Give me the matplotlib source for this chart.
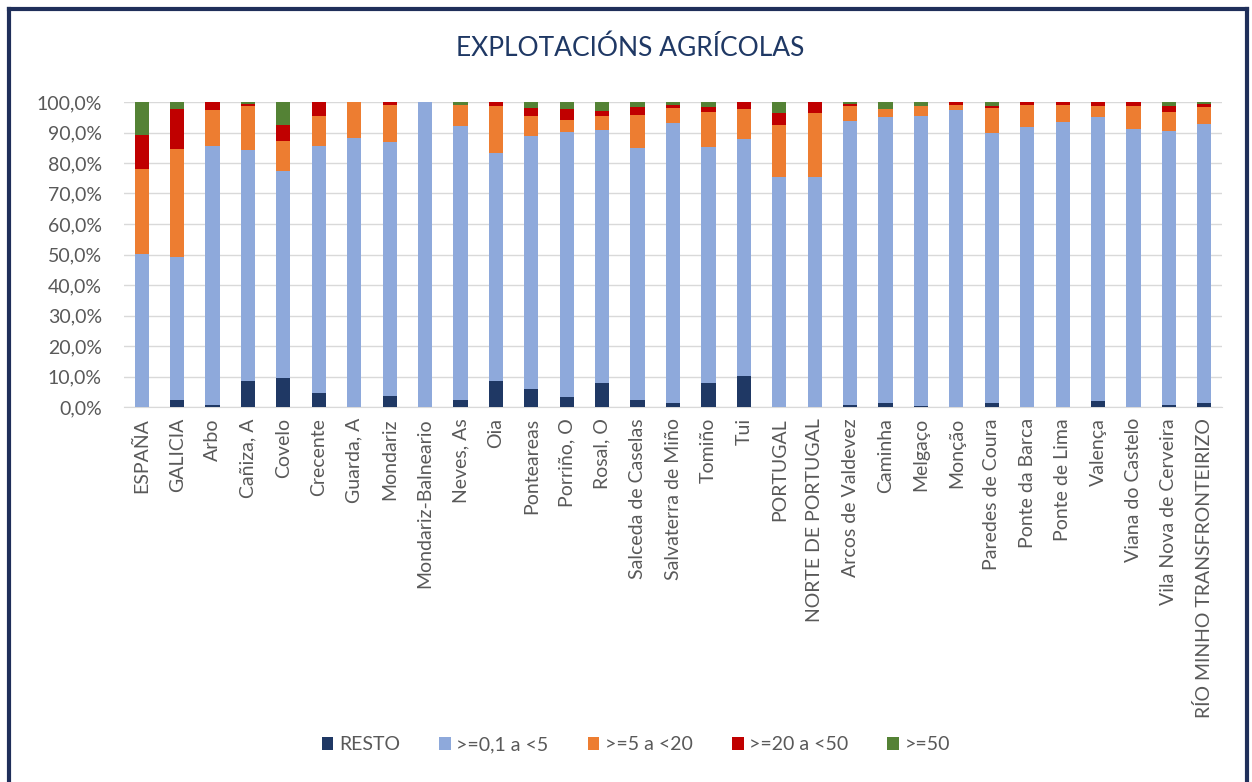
import matplotlib
matplotlib.use("Agg")
import matplotlib.pyplot as plt
from matplotlib.lines import Line2D
import numpy as np

plt.rcParams['font.family'] = ['Lato', 'DejaVu Sans']

# Datos (porcentaxe de explotacións por tamaño)
municipios = ["ESPAÑA", "GALICIA", "Arbo", "Cañiza, A", "Covelo", "Crecente", "Guarda, A",
              "Mondariz", "Mondariz-Balneario", "Neves, As", "Oia", "Ponteareas", "Porriño, O",
              "Rosal, O", "Salceda de Caselas", "Salvaterra de Miño", "Tomiño", "Tui",
              "PORTUGAL", "NORTE DE PORTUGAL", "Arcos de Valdevez", "Caminha", "Melgaço",
              "Monção", "Paredes de Coura", "Ponte da Barca", "Ponte de Lima", "Valença",
              "Viana do Castelo", "Vila Nova de Cerveira", "RÍO MINHO TRANSFRONTEIRIZO"]
resto =   [0.0, 2.3, 0.8, 8.6, 9.5, 4.7, 0.0, 3.6, 0.0, 2.2, 8.4, 6.0, 3.4, 7.9, 2.2, 1.4, 7.9, 10.2,
           0.0, 0.0, 0.7, 1.4, 0.3, 0.0, 1.2, 0.0, 0.0, 2.0, 0.0, 0.6, 1.2]
ata5 =    [50.1, 46.9, 84.7, 75.5, 68.0, 81.0, 88.2, 83.2, 100.0, 89.9, 74.9, 82.8, 86.7, 82.9, 82.7, 91.8, 77.3, 77.7,
           75.4, 75.4, 93.2, 93.6, 95.1, 97.3, 88.7, 91.7, 93.4, 93.0, 91.0, 90.0, 91.6]
ata20 =   [28.0, 35.4, 11.9, 14.6, 9.6, 9.7, 11.8, 12.3, 0.0, 6.8, 15.4, 6.6, 3.9, 4.6, 11.0, 4.9, 11.5, 9.9,
           17.2, 20.9, 4.7, 2.6, 3.3, 1.8, 8.1, 7.2, 5.5, 3.7, 7.7, 6.1, 5.5]
ata50 =   [11.0, 13.0, 2.6, 0.5, 5.5, 4.6, 0.0, 0.9, 0.0, 0.0, 1.3, 2.5, 3.8, 1.6, 2.6, 1.0, 1.8, 2.2,
           3.9, 3.7, 0.7, 0.0, 0.0, 0.9, 0.7, 1.1, 1.1, 1.3, 1.3, 2.0, 1.0]
mais50 =  [10.9, 2.4, 0.0, 0.8, 7.4, 0.0, 0.0, 0.0, 0.0, 1.1, 0.0, 2.1, 2.2, 3.0, 1.5, 0.9, 1.5, 0.0,
           3.5, 0.0, 0.7, 2.4, 1.3, 0.0, 1.3, 0.0, 0.0, 0.0, 0.0, 1.3, 0.7]

series = [resto, ata5, ata20, ata50, mais50]
etiquetas = ["RESTO", ">=0,1 a <5", ">=5 a <20", ">=20 a <50", ">=50"]
cores = ["#1F3864", "#8EA9DB", "#ED7D31", "#C00000", "#548235"]

fig = plt.figure(figsize=(12.52, 7.82), dpi=100)
ax = fig.add_axes([124 / 1252, 1 - 407 / 782, 1098 / 1252, 305 / 782])

x = np.arange(len(municipios))
base = np.zeros(len(municipios))
for vals, lab, col in zip(series, etiquetas, cores):
    ax.bar(x, vals, width=0.4, bottom=base, color=col, label=lab, zorder=3)
    base += np.array(vals)

ax.set_xlim(-0.5, len(municipios) - 0.5)
ax.set_ylim(0, 100)
ax.set_yticks(np.arange(0, 101, 10))
ax.set_yticklabels([f"{v},0%" for v in range(0, 101, 10)])
ax.set_xticks(x)
ax.set_xticklabels(municipios, rotation=90)
ax.tick_params(axis='both', length=0, labelsize=14, labelcolor="#595959")
ax.tick_params(axis='y', pad=16)
ax.tick_params(axis='x', pad=8)
ax.grid(axis='y', color="#D9D9D9", linewidth=1, zorder=0)
for s in ['top', 'right', 'left']:
    ax.spines[s].set_visible(False)
ax.spines['bottom'].set_color("#D9D9D9")

fig.text(0.503, 1 - 48 / 782, "EXPLOTACIÓNS AGRÍCOLAS", ha='center', va='center',
         fontsize=19, color="#1F3864")

handles, labels = ax.get_legend_handles_labels()
fig.legend(handles, labels, loc='center', bbox_to_anchor=(0.508, 1 - 745 / 782), ncol=5,
           frameon=False, fontsize=14, handlelength=0.6, handleheight=0.6,
           columnspacing=2.0, handletextpad=0.3, labelcolor="#595959")

# marco exterior
for xs, ys in [([9 / 1252, 9 / 1252], [0, 1 - 9 / 782]),
               ([9 / 1252, 1247 / 1252], [1 - 9 / 782, 1 - 9 / 782]),
               ([1247 / 1252, 1247 / 1252], [0, 1 - 9 / 782])]:
    fig.add_artist(Line2D(xs, ys, color="#1F2F5A", linewidth=3, transform=fig.transFigure))

fig.savefig("out.png", dpi=100)
